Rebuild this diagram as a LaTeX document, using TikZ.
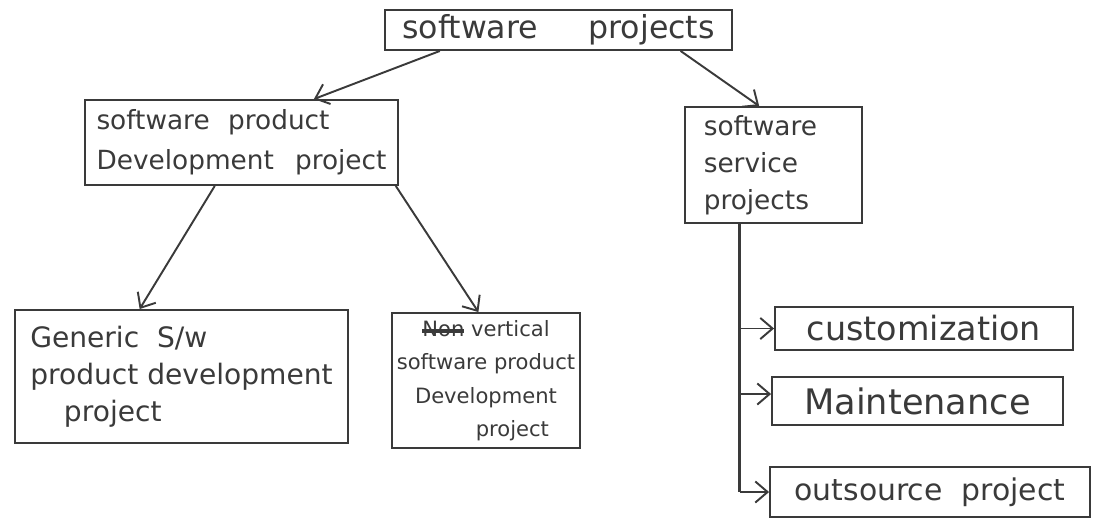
\documentclass[tikz,border=0pt]{standalone}
\usepackage{fontspec}
\setmainfont{DejaVu Sans}
\usetikzlibrary{arrows.meta,calc}
\definecolor{pen}{HTML}{3A3A3A}
\tikzset{
  box/.style={draw=pen, line width=1.1pt, text=pen, align=left, inner sep=0pt},
  link/.style={draw=pen, line width=1.1pt, -{Straight Barb[length=7pt,width=12pt,line width=1.1pt]}},
  plain/.style={draw=pen, line width=1.2pt},
}
% font size and baseline skip, in points
\newcommand{\fs}[2]{\fontsize{#1}{#2}\selectfont}
% struck-out word: a heavy bar laid over the text
\newcommand{\struck}[1]{\setbox0\hbox{#1}\rlap{\rule[0.28ex]{\wd0}{2.2pt}}#1}
\begin{document}
\begin{tikzpicture}[x=0.02cm,y=-0.02cm]
\useasboundingbox (0,0) rectangle (1096,529);
% boxes
\node[box, font=\fs{18}{22}, minimum width=6.94cm, minimum height=0.8cm] (top) at (558.5,30)
  {software\hspace{1.6em}projects};
\node[box, font=\fs{15}{23}, minimum width=6.26cm, minimum height=1.7cm] (prod) at (241.5,142.5)
  {software\hspace{0.7em}product\\Development\hspace{0.8em}project};
\node[box, font=\fs{15}{21}, minimum width=3.54cm, minimum height=2.32cm] (svc) at (773.5,165)
  {software\\service\\projects\rule{1.3em}{0pt}};
\node[box, font=\fs{16}{21}, minimum width=6.66cm, minimum height=2.66cm] (gen) at (181.5,376.5)
  {Generic\ \ S/w\\product\ development\\\hspace{1.2em}project};
\node[box, align=center, font=\fs{12}{19}, minimum width=3.76cm, minimum height=2.7cm] (vert) at (486,380.5)
  {\struck{Non} vertical\\software product\\Development\\\hspace{2.5em}project};
\node[box, font=\fs{19}{22}, minimum width=5.96cm, minimum height=0.86cm] (cust) at (924,328.5)
  {customization};
\node[box, font=\fs{20}{22}, minimum width=5.82cm, minimum height=0.96cm] (maint) at (917.5,401)
  {Maintenance};
\node[box, font=\fs{17}{22}, minimum width=6.4cm, minimum height=1.0cm] (outs) at (930,492)
  {outsource\ \ project};
% connectors from the root
\draw[link] ($(top.south west)!0.16!(top.south east)$) -- ($(prod.north west)!0.73!(prod.north east)$);
\draw[link] ($(top.south west)!0.85!(top.south east)$) -- ($(svc.north west)!0.42!(svc.north east)$);
% product development branches
\draw[link] ($(prod.south west)!0.415!(prod.south east)$) -- ($(gen.north west)!0.375!(gen.north east)$);
\draw[link] ($(prod.south west)!0.99!(prod.south east)$) -- ($(vert.north west)!0.46!(vert.north east)$);
% service spine with its three branches
\coordinate (spine) at ($(svc.south west)!0.31!(svc.south east)$);
\draw[plain] (spine) -- (spine |- outs.west);
\draw[link] (spine |- cust.west) -- (cust.west);
\draw[link] ($(spine |- maint.west)+(0,-7)$) -- ($(maint.west)+(0,-7)$);
\draw[link] (spine |- outs.west) -- (outs.west);
\end{tikzpicture}
\end{document}
